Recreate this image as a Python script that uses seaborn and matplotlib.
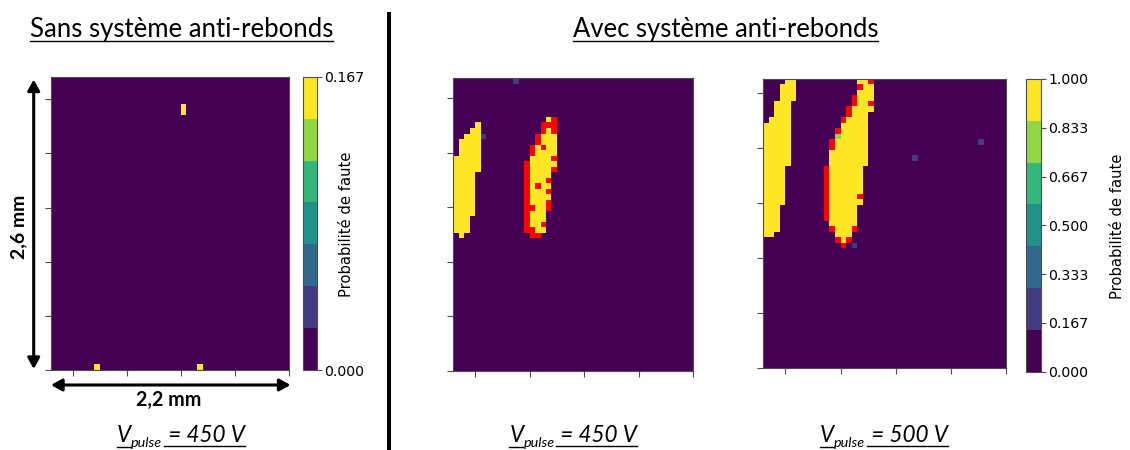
import numpy as np
import matplotlib
matplotlib.use("Agg")
import matplotlib.pyplot as plt
import seaborn as sns
from matplotlib.colors import ListedColormap
from matplotlib.patches import FancyArrowPatch

# ---------------- data ----------------
NX, NY = 44, 53            # scan grid: 2.2 mm x 2.6 mm, 0.05 mm step
N_TRIALS = 6               # probability = faults / 6
# cell maps: (row, first column, codes) ; '6' -> 6/6, '5' -> 5/6, '1' -> 1/6, 'R' -> red (other fault type)
LEFT_ROWS = [
    (5, 24, "1"), (6, 24, "1"),
    (52, 8, "1"), (52, 27, "1"),
]
MID_ROWS = [
    (0, 11, "1"),
    (7, 17, "6R"),
    (8, 4, "6"), (8, 16, "RRR"),
    (9, 3, "66"), (9, 16, "R6R"),
    (10, 2, "6661"), (10, 15, "R666"),
    (11, 1, "6666"), (11, 15, "R666"),
    (12, 1, "6666"), (12, 14, "R6R66"),
    (13, 1, "6666"), (13, 14, "R6666"),
    (14, 0, "66666"), (14, 14, "6666R"),
    (15, 0, "66666"), (15, 13, "R66666"),
    (16, 0, "66666"), (16, 13, "R6666R"),
    (17, 0, "6666"), (17, 13, "R6666"),
    (18, 0, "6666"), (18, 13, "R666R"),
    (19, 0, "6666"), (19, 13, "R6R66"),
    (20, 0, "6666"), (20, 13, "R666R"),
    (21, 0, "6666"), (21, 13, "R6666"),
    (22, 0, "6666"), (22, 13, "R666R"),
    (23, 0, "6666"), (23, 13, "RR66R"),
    (24, 0, "6666"), (24, 13, "R666"),
    (25, 0, "666"), (25, 13, "R666"),
    (26, 0, "666"), (26, 13, "R66R"),
    (27, 0, "666"), (27, 13, "RR66"),
    (28, 1, "6"), (28, 14, "RR"),
]
RIGHT_ROWS = [
    (0, 4, "66"), (0, 17, "66R"),
    (1, 3, "666"), (1, 17, "R66"),
    (2, 3, "666"), (2, 17, "666"),
    (3, 3, "666"), (3, 16, "R666"),
    (4, 2, "666"), (4, 16, "R66R"),
    (5, 2, "666"), (5, 15, "R6666"),
    (6, 2, "666"), (6, 15, "R666"),
    (7, 1, "6666"), (7, 14, "R6666"),
    (8, 0, "66666"), (8, 14, "66666"),
    (9, 0, "66666"), (9, 13, "R66666"),
    (10, 0, "66666"), (10, 13, "566666"),
    (11, 0, "66666"), (11, 12, "R666666"), (11, 39, "1"),
    (12, 0, "66666"), (12, 12, "R666666"),
    (13, 0, "66666"), (13, 12, "6666666"),
    (14, 0, "66666"), (14, 12, "6666666"), (14, 27, "1"),
    (15, 0, "66666"), (15, 12, "6666666"),
    (16, 0, "6666"), (16, 11, "R666666"),
    (17, 0, "6666"), (17, 11, "R666666"),
    (18, 0, "6666"), (18, 11, "R666666"),
    (19, 0, "6666"), (19, 11, "R666666"),
    (20, 0, "6666"), (20, 11, "R666666"),
    (21, 0, "6666"), (21, 11, "R66666R"),
    (22, 0, "6666"), (22, 11, "R666666"),
    (23, 0, "666"), (23, 11, "R66666"),
    (24, 0, "666"), (24, 11, "R66666"),
    (25, 0, "666"), (25, 11, "R66666"),
    (26, 0, "666"), (26, 12, "66666"),
    (27, 0, "666"), (27, 12, "R666R"),
    (28, 0, "66"), (28, 13, "666"),
    (29, 13, "R6R"),
    (30, 14, "R"), (30, 16, "1"),
]
LEFT_VMAX = 1 / 6
LEFT_CBAR_TICKS = [0, 1 / 6]
RIGHT_VMAX = 1.0
RIGHT_CBAR_TICKS = [0, 1 / 6, 2 / 6, 3 / 6, 4 / 6, 5 / 6, 1]
XTICK_CELLS = [4, 14, 24, 34, 44]

TITLE_LEFT = "Sans système anti-rebonds"
TITLE_RIGHT = "Avec système anti-rebonds"
CBAR_LABEL = "Probabilité de faute"
VOLTAGES = ["450 V", "450 V", "500 V"]
SIZE_X = "2,2 mm"
SIZE_Y = "2,6 mm"

# ---------------- helpers ----------------
def build(rows):
    prob = np.zeros((NY, NX))
    red = np.full((NY, NX), np.nan)
    for r, c0, s in rows:
        for k, ch in enumerate(s):
            if ch == "R":
                red[r, c0 + k] = 1.0
                prob[r, c0 + k] = np.nan
            else:
                prob[r, c0 + k] = int(ch) / N_TRIALS
    return prob, red

W, H = 1130, 450
fig = plt.figure(figsize=(W / 100, H / 100), dpi=100)

def rect(x0, y0, x1, y1):
    return [x0 / W, 1 - y1 / H, (x1 - x0) / W, (y1 - y0) / H]

CMAP = plt.get_cmap("viridis", 7)
RED = ListedColormap(["#ff0000"])
GREY = "0.3"

def panel(rows, box, vmax, cax=None, ticks=None):
    x0, y0, x1, y1 = box
    ax = fig.add_axes(rect(*box))
    prob, red = build(rows)
    kws = dict(xticklabels=False, yticklabels=False)
    if cax is not None:
        sns.heatmap(prob, ax=ax, cmap=CMAP, vmin=0, vmax=vmax, cbar_ax=cax,
                    cbar_kws=dict(ticks=ticks, format="%.3f"), **kws)
    else:
        sns.heatmap(prob, ax=ax, cmap=CMAP, vmin=0, vmax=vmax, cbar=False, **kws)
    sns.heatmap(red, ax=ax, cmap=RED, vmin=0, vmax=1, cbar=False, **kws)
    for s in ax.spines.values():
        s.set_visible(True)
        s.set_color(GREY)
        s.set_linewidth(0.8)
    cw = (x1 - x0) / NX
    ch = (y1 - y0) / NY
    step = 10 * cw / ch
    ax.set_xticks(XTICK_CELLS)
    ax.set_yticks([NY - k * step for k in range(6)])
    ax.tick_params(length=4, width=0.8, color=GREY, labelbottom=False,
                   labelleft=False, bottom=True, left=True)
    return ax

cax_l = fig.add_axes(rect(302.7, 76.7, 316.7, 370))
cax_r = fig.add_axes(rect(1026.3, 79, 1040.7, 371.7))

ax_l = panel(LEFT_ROWS, (51, 76.7, 289.3, 370), LEFT_VMAX, cax_l, LEFT_CBAR_TICKS)
ax_m = panel(MID_ROWS, (453.3, 78.3, 693.3, 371), RIGHT_VMAX)
ax_r = panel(RIGHT_ROWS, (763.3, 79, 1006, 368.3), RIGHT_VMAX, cax_r, RIGHT_CBAR_TICKS)

for ax, cax in ((ax_l, cax_l), (ax_r, cax_r)):
    cb = ax.collections[0].colorbar
    cb.outline.set_linewidth(0.8)
    cb.outline.set_edgecolor(GREY)
    cax.tick_params(labelsize=10.2, length=3.5, width=0.8, color=GREY, pad=2)

# ---------------- annotation layer ----------------
ov = fig.add_axes([0, 0, 1, 1], zorder=10)
ov.set_xlim(0, W)
ov.set_ylim(H, 0)
ov.axis("off")
ov.patch.set_alpha(0)
renderer = fig.canvas.get_renderer()
FAM = ["Lato", "DejaVu Sans"]

def fit(t, target, use_height=False):
    bb = t.get_window_extent(renderer)
    cur = bb.height if use_height else bb.width
    t.set_fontsize(t.get_fontsize() * target / cur)
    return t

# titles
t1 = ov.text(30, 36.5, TITLE_LEFT, ha="left", va="baseline", family=FAM, fontsize=18)
fit(t1, 303)
ov.plot([30, 333], [41, 41], color="k", lw=1.0)
t2 = ov.text(725.5, 36.5, TITLE_RIGHT, ha="center", va="baseline", family=FAM, fontsize=18)
fit(t2, 305)
ov.plot([573, 878], [41, 41], color="k", lw=1.0)

# separator
ov.plot([388.7, 388.7], [11.5, 450], color="k", lw=2.9, solid_capstyle="butt")

# colorbar labels
cl1 = ov.text(346.5, 224, CBAR_LABEL, rotation=90, ha="center", va="center", fontsize=10)
fit(cl1, 145, use_height=True)
cl2 = ov.text(1117.5, 226, CBAR_LABEL, rotation=90, ha="center", va="center", fontsize=10)
fit(cl2, 145, use_height=True)

# dimension arrows
for pa, pb in (((33.7, 79.5), (33.7, 369)), ((51, 385), (290.5, 385))):
    ov.add_patch(FancyArrowPatch(pa, pb, arrowstyle="<|-|>,head_length=6.5,head_width=3.6",
                                 mutation_scale=1, lw=2.2, color="k",
                                 shrinkA=0, shrinkB=0))
ty = ov.text(18.3, 227, SIZE_Y, rotation=90, ha="center", va="center",
             fontweight="bold", family=FAM, fontsize=13.5)
fit(ty, 64, use_height=True)
tx = ov.text(169, 400, SIZE_X, ha="center", va="center", fontweight="bold",
             family=FAM, fontsize=13.5)
fit(tx, 65)

# V_pulse subtitles
def vpulse(cx, volt, target=128.0):
    size = 15.0
    base = 441.5
    parts = [
        ov.text(0, base, "V", fontsize=size, style="italic", family=FAM, va="baseline", ha="left"),
        ov.text(0, base + 5.5, "pulse", fontsize=size * 0.64, style="italic", family=FAM, va="baseline", ha="left"),
        ov.text(0, base, " = " + volt, fontsize=size, style="italic", family=FAM, va="baseline", ha="left"),
    ]
    widths = [p.get_window_extent(renderer).width for p in parts]
    total = sum(widths)
    k = target / total
    for p in parts:
        p.set_fontsize(p.get_fontsize() * k)
    widths = [w * k for w in widths]
    x = cx - target / 2
    xs = []
    for p, w in zip(parts, widths):
        p.set_x(x)
        xs.append((x, x + w))
        x += w
    ov.plot([xs[0][0], xs[0][1]], [446.8, 446.8], color="k", lw=1.0)
    ov.plot([xs[2][0] + 1, xs[2][1]], [445.8, 445.8], color="k", lw=1.0)

vpulse(181, VOLTAGES[0])
vpulse(573.3, VOLTAGES[1])
vpulse(884, VOLTAGES[2])

fig.savefig("out.png", dpi=100)
